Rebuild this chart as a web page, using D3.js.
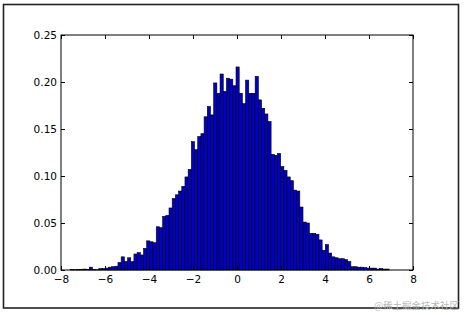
<!DOCTYPE html>
<html>
<head>
<meta charset="utf-8">
<script src="https://cdn.jsdelivr.net/npm/d3@7"></script>
<style>
  html, body { margin: 0; padding: 0; background: #fff; }
  svg { display: block; }
  text { font-family: "DejaVu Sans", sans-serif; }
</style>
</head>
<body>
<svg id="chart" width="465" height="315"></svg>
<script>
// ---- data ----
const binStart = -7.585;   // left edge of first bin
const binWidth = 0.145;    // histogram bin width
const densities = [
  0.0006, 0.0003, 0.0006, 0.0006, 0.001, 0.0006, 0.003, 0.0006, 0.0003, 0.0015,
  0.0015, 0.002, 0.003, 0.0035, 0.004, 0.008, 0.014, 0.009, 0.013, 0.009,
  0.017, 0.0185, 0.016, 0.023, 0.031, 0.030, 0.029, 0.046, 0.045, 0.057,
  0.058, 0.066, 0.076, 0.080, 0.084, 0.089, 0.099, 0.107, 0.1365, 0.128,
  0.142, 0.145, 0.163, 0.174, 0.165, 0.199, 0.188, 0.2085, 0.190, 0.204,
  0.203, 0.196, 0.216, 0.188, 0.177, 0.202, 0.188, 0.188, 0.206, 0.181,
  0.172, 0.166, 0.158, 0.123, 0.122, 0.124, 0.110, 0.106, 0.099, 0.095,
  0.085, 0.084, 0.067, 0.051, 0.050, 0.039, 0.039, 0.038, 0.032, 0.021,
  0.027, 0.018, 0.014, 0.013, 0.012, 0.012, 0.011, 0.009, 0.0035, 0.0035,
  0.003, 0.003, 0.0025, 0.002, 0.002, 0.002, 0.001, 0.0015, 0.001, 0.001
];
const xTicks = [-8, -6, -4, -2, 0, 2, 4, 6, 8];
const yTicks = [0.00, 0.05, 0.10, 0.15, 0.20, 0.25];
const watermark = "@稀土掘金技术社区";

// ---- layout ----
const svg = d3.select("#chart");
const plot = { left: 61, right: 413, top: 35, bottom: 270 };

const x = d3.scaleLinear().domain([-8, 8]).range([plot.left, plot.right]);
const y = d3.scaleLinear().domain([0, 0.25]).range([plot.bottom, plot.top]);

// outer frame
svg.append("rect")
  .attr("x", 3.5).attr("y", 4.5)
  .attr("width", 455).attr("height", 303.5)
  .attr("fill", "none").attr("stroke", "#222").attr("stroke-width", 1.6);

// bars
const bins = densities.map((v, i) => ({
  x0: binStart + i * binWidth,
  x1: binStart + (i + 1) * binWidth,
  v
}));
svg.append("g").selectAll("rect")
  .data(bins).enter().append("rect")
  .attr("x", d => x(d.x0))
  .attr("width", d => x(d.x1) - x(d.x0))
  .attr("y", d => y(d.v))
  .attr("height", d => y(0) - y(d.v))
  .attr("fill", "#0000c8")
  .attr("stroke", "#000")
  .attr("stroke-width", 0.6);

// axes (ticks pointing inward, matplotlib classic)
const fmt = d3.format(".2f");
const minus = s => String(s).replace("-", "\u2212");

const gx = svg.append("g").attr("transform", `translate(0,${plot.bottom})`)
  .call(d3.axisBottom(x).tickValues(xTicks).tickSizeInner(-4).tickSizeOuter(0)
        .tickPadding(6).tickFormat(d => minus(d)));
const gy = svg.append("g").attr("transform", `translate(${plot.left},0)`)
  .call(d3.axisLeft(y).tickValues(yTicks).tickSizeInner(-4).tickSizeOuter(0)
        .tickPadding(4).tickFormat(fmt));
const gt = svg.append("g").attr("transform", `translate(0,${plot.top})`)
  .call(d3.axisTop(x).tickValues(xTicks).tickSizeInner(-4).tickSizeOuter(0).tickFormat(""));
const gr = svg.append("g").attr("transform", `translate(${plot.right},0)`)
  .call(d3.axisRight(y).tickValues(yTicks).tickSizeInner(-4).tickSizeOuter(0).tickFormat(""));

[gx, gy, gt, gr].forEach(g => {
  g.select(".domain").remove();
  g.selectAll("line").attr("stroke", "#000").attr("stroke-width", 1);
  g.selectAll("text").attr("fill", "#000")
    .style("font-family", "'DejaVu Sans', sans-serif").style("font-size", "10.5px");
});

// axes frame
svg.append("rect")
  .attr("x", plot.left).attr("y", plot.top)
  .attr("width", plot.right - plot.left).attr("height", plot.bottom - plot.top)
  .attr("fill", "none").attr("stroke", "#000").attr("stroke-width", 1);

// watermark
svg.append("text")
  .attr("x", 459).attr("y", 309)
  .attr("text-anchor", "end")
  .attr("fill", "#b8b8b8")
  .style("font-family", "'Noto Sans CJK SC', sans-serif")
  .style("font-size", "9.5px")
  .text(watermark);
</script>
</body>
</html>
